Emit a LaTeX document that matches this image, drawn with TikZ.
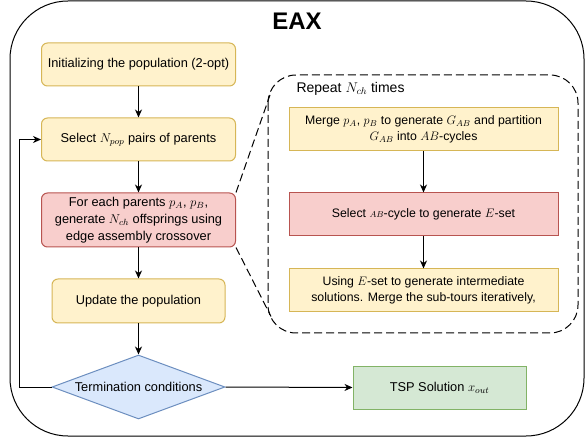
\RequirePackage{fix-cm}
\documentclass[tikz,border=0pt]{standalone}
\usepackage{fontspec}
\setmainfont{Liberation Sans}
\usetikzlibrary{shapes.geometric,arrows.meta}

\definecolor{yfill}{HTML}{FFF2CC}
\definecolor{ydraw}{HTML}{D6B656}
\definecolor{rfill}{HTML}{F8CECC}
\definecolor{rdraw}{HTML}{B85450}
\definecolor{bfill}{HTML}{DAE8FC}
\definecolor{bdraw}{HTML}{6C8EBF}
\definecolor{gfill}{HTML}{D5E8D4}
\definecolor{gdraw}{HTML}{82B366}

\begin{document}
\begin{tikzpicture}
  [x=1pt,y=-1pt,line width=1pt,
   every node/.style={font=\fontsize{12.8}{17}\selectfont,align=center,inner sep=0pt},
   ybox/.style={draw=ydraw,fill=yfill,rounded corners=6pt,minimum width=194pt,minimum height=43pt},
   rbox/.style={draw=rdraw,fill=rfill,rounded corners=6pt,minimum width=194pt,minimum height=54pt},
   inbox/.style={minimum width=269pt,minimum height=43pt,font=\fontsize{12.3}{16}\selectfont},
   arr/.style={-{Stealth[length=8pt,width=7pt,inset=2.5pt]}}]
  \useasboundingbox (0,0) rectangle (586,443);

  % outer frame and title
  \draw[rounded corners=58pt] (10,1) rectangle (584,436);
  \node[font=\fontsize{24}{28}\bfseries] (title) at (297,21) {EAX};

  % main loop
  \node[ybox] (init) at (138.5,64.5) {Initializing the population (2-opt)};
  \node[ybox] (select) at (138.5,139.5) {Select $N_{pop}$ pairs of parents};
  \node[rbox] (offspring) at (138.5,220) {For each parents $p_A$, $p_B$,\\generate $N_{ch}$ offsprings using\\edge assembly crossover};
  \node[ybox,minimum width=173pt,minimum height=44pt] (update) at (138.5,301) {Update the population};
  \node[diamond,draw=bdraw,fill=bfill,shape aspect=2.7,minimum width=173pt,minimum height=64pt] (term) at (138.5,387) {Termination conditions};
  \node[draw=gdraw,fill=gfill,minimum width=173pt,minimum height=43pt] (tsp) at (439.5,387.5) {TSP Solution $x_{out}$};

  % crossover detail
  \draw[dash pattern=on 8pt off 4pt,rounded corners=28pt] (268,75) rectangle (578,333);
  \node[anchor=west,font=\fontsize{14}{16}\selectfont] (repeat) at (296,89) {Repeat $N_{ch}$ times};
  \node[inbox,draw=ydraw,fill=yfill] (merge) at (423.5,129.5) {Merge $p_A$, $p_B$ to generate $G_{AB}$ and partition\\$G_{AB}$ into $AB$-cycles};
  \node[inbox,draw=rdraw,fill=rfill] (selcyc) at (423.5,214.5) {Select ${\scriptstyle AB}$-cycle to generate $E$-set};
  \node[inbox,draw=ydraw,fill=yfill] (using) at (423.5,290.5) {Using $E$-set to generate intermediate\\solutions. Merge the sub-tours iteratively,};

  \coordinate (zt) at (270,95);
  \coordinate (zb) at (271,316.5);
  \draw[dash pattern=on 8pt off 4pt] (offspring.north east) -- (zt);
  \draw[dash pattern=on 8pt off 4pt] (offspring.south east) -- (zb);

  \foreach \from/\to in {init/select,select/offspring,offspring/update,update/term,merge/selcyc,selcyc/using}
    \draw[arr] (\from.south) -- (\to.north);
  \draw[arr] (term.west) -- ++(-32,0) |- (select.west);
  \draw[arr] (term.east) -- (tsp.west);
\end{tikzpicture}
\end{document}
